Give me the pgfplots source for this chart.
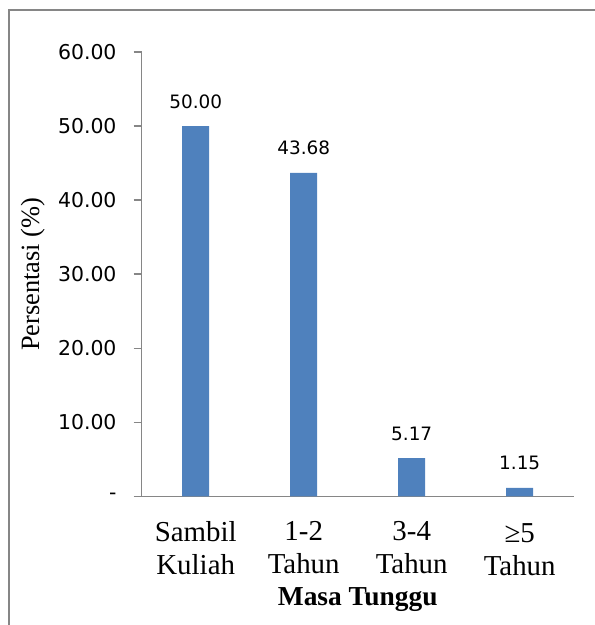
\documentclass[border=0pt]{standalone}
\usepackage{fontspec}
\setmainfont{Liberation Serif}
\newfontfamily\dejavu{DejaVu Sans}
\usepackage{pgfplots}
\pgfplotsset{compat=1.18}
\definecolor{barblue}{HTML}{4F81BD}
\definecolor{axisgray}{HTML}{868686}
\begin{document}
\begin{tikzpicture}[x=1bp,y=1bp]
\useasboundingbox (0,0) rectangle (595,625);
\draw[axisgray, line width=2bp] (8.7,-10) rectangle (605,615);
\begin{axis}[
    at={(141.7bp,128.5bp)}, anchor=south west,
    scale only axis, width=432bp, height=444.5bp,
    xmin=0, xmax=4, ymin=0, ymax=60,
    ybar, bar width=27bp,
    separate axis lines,
    axis x line*=bottom, axis y line*=left,
    axis line style={axisgray, line width=1.5bp, -},
    xtick={0.5,1.5,2.5,3.5},
    xticklabels={{Sambil\\Kuliah},{1-2\\Tahun},{3-4\\Tahun},{\rule{0pt}{20.5bp}≥5\\Tahun}},
    ytick={0,10,...,60},
    yticklabels={-,10.00,20.00,30.00,40.00,50.00,60.00},
    tick align=outside, major tick length=8bp,
    ytick style={axisgray, line width=1.5bp},
    xtick style={draw=none},
    yticklabel style={font=\dejavu\fontsize{20.5}{24}\selectfont, anchor=east, inner sep=0pt, xshift=-17bp},
    xticklabel style={font=\fontsize{29}{33}\selectfont, align=center, anchor=north, inner sep=0pt, yshift=-17bp},
    xlabel={\textbf{Masa Tunggu}},
    xlabel style={font=\fontsize{27.5}{30}\selectfont, at={(rel axis cs:0.5,0)}, anchor=base, yshift=-109.5bp, inner sep=0pt},
    ylabel={Persentasi (\%)},
    ylabel style={font=\fontsize{26.5}{30}\selectfont, at={(rel axis cs:0,0.5)}, anchor=center, yshift=109bp, inner sep=0pt},
    nodes near coords={\pgfmathprintnumber[fixed,fixed zerofill,precision=2,assume math mode=true]{\pgfplotspointmeta}},
    nodes near coords style={font=\dejavu\fontsize{18.5}{22}\selectfont, anchor=base, inner sep=0pt, yshift=18bp},
]
\addplot[fill=barblue, draw=none] coordinates {(0.5,50.00) (1.5,43.68) (2.5,5.17) (3.5,1.15)};
\end{axis}
\end{tikzpicture}
\end{document}
